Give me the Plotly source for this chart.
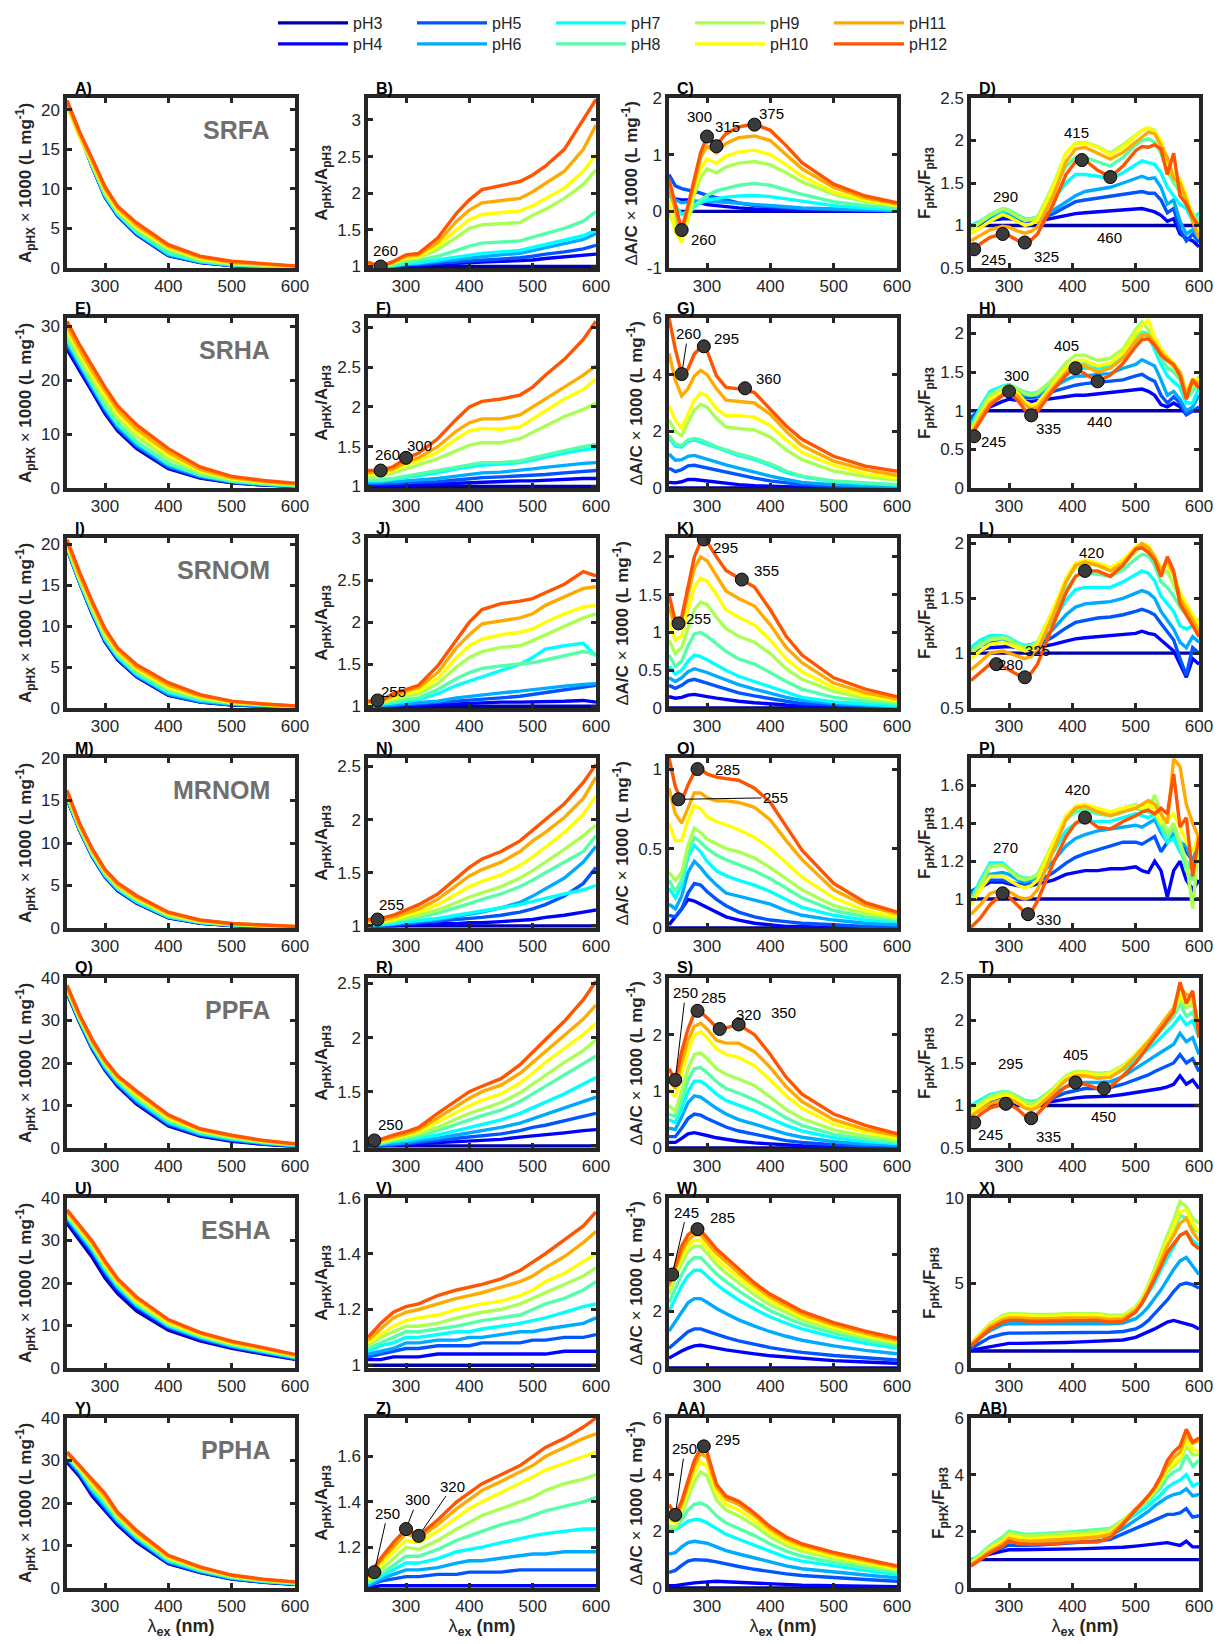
import plotly.graph_objects as go

FIG_W = 1220
FIG_H = 1644

PH_NAMES = ['pH3', 'pH4', 'pH5', 'pH6', 'pH7', 'pH8', 'pH9', 'pH10', 'pH11', 'pH12']
PH_COLORS = ['#0000AA', '#0000FF', '#0055FF', '#00AAFF', '#00FFFF',
             '#55FFAA', '#AAFF55', '#FFFF00', '#FFAA00', '#FF5500']

# wavelength grids (nm)
WL_ABS = [240, 260, 280, 300, 320, 350, 400, 450, 500, 550, 600]
WL_RATIO = [240, 260, 280, 300, 320, 350, 380, 400, 420, 450, 480, 500, 520, 550, 580, 600]
WL_DIFF = [240, 250, 260, 270, 280, 290, 300, 315, 330, 350, 375, 400, 425, 450, 500, 550, 600]
WL_FLUO = [240, 255, 270, 290, 300, 315, 325, 335, 345, 370, 390, 405, 420, 440, 460, 480,
           500, 510, 520, 530, 540, 550, 560, 570, 580, 590, 600]

# pH3 reference series (ratio to itself = 1, difference to itself = 0)
PH3_RATIO = [1, 1, 1, 1, 1, 1, 1, 1, 1, 1, 1, 1, 1, 1, 1, 1]
PH3_DIFF = [0, 0, 0, 0, 0, 0, 0, 0, 0, 0, 0, 0, 0, 0, 0, 0, 0]
PH3_FLUO = [1, 1, 1, 1, 1, 1, 1, 1, 1, 1, 1, 1, 1, 1, 1, 1, 1, 1, 1, 1, 1, 1, 1, 1, 1, 1, 1]

# ---------------- SRFA ----------------
SRFA_ABS = [
    [21.0, 16.8, 12.8, 9.0, 6.6, 4.2, 1.55, 0.70, 0.30, 0.15, 0.08],
    [21.0, 16.8, 12.8, 9.0, 6.6, 4.3, 1.6, 0.72, 0.32, 0.17, 0.09],
    [21.0, 16.8, 12.9, 9.1, 6.7, 4.3, 1.65, 0.75, 0.34, 0.19, 0.10],
    [21.0, 16.8, 12.9, 9.1, 6.7, 4.4, 1.7, 0.78, 0.36, 0.20, 0.11],
    [20.9, 16.8, 12.9, 9.2, 6.8, 4.5, 1.8, 0.82, 0.38, 0.22, 0.12],
    [20.8, 16.7, 13.0, 9.3, 6.9, 4.6, 2.0, 0.92, 0.43, 0.25, 0.14],
    [20.6, 16.6, 13.1, 9.6, 7.2, 5.0, 2.4, 1.10, 0.55, 0.32, 0.19],
    [20.6, 16.6, 13.2, 9.7, 7.3, 5.1, 2.6, 1.20, 0.60, 0.36, 0.21],
    [20.8, 16.9, 13.5, 10.0, 7.6, 5.4, 2.75, 1.35, 0.70, 0.45, 0.24],
    [21.2, 17.2, 13.8, 10.3, 7.8, 5.7, 2.95, 1.5, 0.85, 0.55, 0.27],
]
SRFA_RATIO = [
    PH3_RATIO,
    [1.01, 1.0, 1.0, 1.01, 1.02, 1.03, 1.04, 1.05, 1.06, 1.07, 1.08, 1.09, 1.11, 1.13, 1.15, 1.17],
    [1.02, 1.01, 1.01, 1.02, 1.03, 1.05, 1.07, 1.08, 1.09, 1.1, 1.12, 1.14, 1.17, 1.2, 1.24, 1.29],
    [1.0, 1.0, 1.01, 1.03, 1.04, 1.07, 1.1, 1.12, 1.14, 1.16, 1.18, 1.22, 1.26, 1.31, 1.37, 1.45],
    [1.0, 1.0, 1.01, 1.04, 1.05, 1.09, 1.13, 1.16, 1.18, 1.2, 1.22, 1.26, 1.3, 1.35, 1.42, 1.5],
    [1.0, 1.0, 1.02, 1.06, 1.08, 1.14, 1.22, 1.28, 1.32, 1.34, 1.35, 1.4, 1.45, 1.52, 1.62, 1.75],
    [1.0, 1.0, 1.04, 1.1, 1.12, 1.23, 1.4, 1.52, 1.57, 1.58, 1.6, 1.7, 1.78, 1.93, 2.12, 2.32],
    [1.01, 1.0, 1.05, 1.12, 1.14, 1.28, 1.5, 1.64, 1.71, 1.73, 1.76, 1.83, 1.93, 2.07, 2.3, 2.53],
    [1.04, 1.0, 1.06, 1.14, 1.16, 1.33, 1.62, 1.77, 1.87, 1.9, 1.93, 2.02, 2.13, 2.3, 2.6, 2.93],
    [1.06, 1.0, 1.07, 1.16, 1.18, 1.39, 1.73, 1.91, 2.05, 2.11, 2.16, 2.25, 2.37, 2.6, 3.0, 3.28],
]
SRFA_DIFF = [
    PH3_DIFF,
    [0.3, 0.22, 0.2, 0.2, 0.18, 0.15, 0.12, 0.1, 0.08, 0.06, 0.04, 0.03, 0.02, 0.02, 0.01, 0.01, 0.0],
    [0.65, 0.45, 0.4, 0.38, 0.35, 0.32, 0.28, 0.24, 0.2, 0.15, 0.1, 0.08, 0.06, 0.05, 0.03, 0.02, 0.01],
    [0.4, 0.2, 0.15, 0.17, 0.18, 0.18, 0.18, 0.17, 0.16, 0.14, 0.12, 0.1, 0.08, 0.06, 0.04, 0.02, 0.01],
    [0.3, 0.1, -0.05, 0.0, 0.08, 0.15, 0.2, 0.23, 0.25, 0.27, 0.28, 0.26, 0.22, 0.17, 0.1, 0.06, 0.03],
    [0.05, -0.2, -0.35, -0.1, 0.1, 0.2, 0.28, 0.36, 0.4, 0.46, 0.49, 0.46, 0.38, 0.3, 0.17, 0.1, 0.06],
    [0.0, -0.3, -0.5, -0.15, 0.3, 0.6, 0.75, 0.68, 0.78, 0.85, 0.88, 0.82, 0.68, 0.52, 0.3, 0.17, 0.1],
    [0.2, -0.35, -0.55, -0.1, 0.4, 0.75, 0.93, 0.85, 0.97, 1.05, 1.08, 1.0, 0.82, 0.62, 0.34, 0.2, 0.1],
    [0.5, 0.0, -0.4, 0.05, 0.5, 0.95, 1.15, 1.03, 1.2, 1.3, 1.33, 1.25, 1.0, 0.75, 0.42, 0.24, 0.13],
    [0.57, 0.1, -0.33, 0.1, 0.57, 1.04, 1.32, 1.17, 1.37, 1.49, 1.54, 1.43, 1.16, 0.86, 0.48, 0.27, 0.15],
]
SRFA_FLUO = [
    PH3_FLUO,
    [1.0, 1.03, 1.06, 1.08, 1.08, 1.06, 1.05, 1.05, 1.05, 1.09, 1.12, 1.14, 1.15, 1.16, 1.17, 1.18, 1.19, 1.2, 1.18, 1.16, 1.12, 1.05, 1.08, 0.9, 0.85, 0.82, 0.75],
    [1.0, 1.04, 1.08, 1.12, 1.11, 1.08, 1.06, 1.06, 1.07, 1.14, 1.22, 1.28, 1.3, 1.32, 1.35, 1.37, 1.38, 1.4, 1.38, 1.38, 1.3, 1.15, 1.2, 0.95, 0.82, 0.9, 0.8],
    [1.0, 1.05, 1.1, 1.14, 1.13, 1.09, 1.07, 1.07, 1.08, 1.18, 1.28, 1.35, 1.4, 1.42, 1.45, 1.5, 1.55, 1.58, 1.55, 1.56, 1.45, 1.25, 1.3, 1.05, 0.9, 0.95, 0.85],
    [1.0, 1.05, 1.12, 1.18, 1.16, 1.11, 1.08, 1.08, 1.1, 1.3, 1.5, 1.6, 1.6, 1.58, 1.55, 1.62, 1.72, 1.76, 1.74, 1.72, 1.62, 1.45, 1.35, 1.25, 1.2, 1.05, 1.15],
    [0.97, 1.05, 1.13, 1.2, 1.18, 1.12, 1.08, 1.08, 1.1, 1.4, 1.7, 1.8, 1.8, 1.75, 1.7, 1.8, 1.95, 2.0, 2.02, 1.98, 1.85, 1.65, 1.5, 1.4, 1.25, 1.15, 1.05],
    [0.95, 1.03, 1.12, 1.2, 1.17, 1.1, 1.06, 1.07, 1.1, 1.48, 1.85, 1.97, 1.98, 1.93, 1.85, 1.95, 2.07, 2.12, 2.15, 2.12, 1.95, 1.75, 1.55, 1.45, 1.3, 1.15, 1.0],
    [0.9, 0.97, 1.05, 1.13, 1.1, 1.04, 1.0, 1.02, 1.06, 1.45, 1.85, 1.96, 1.97, 1.92, 1.83, 1.92, 2.05, 2.12, 2.15, 2.1, 2.0, 1.75, 1.6, 1.55, 1.35, 1.1, 0.92],
    [0.82, 0.88, 0.95, 0.99, 0.98, 0.93, 0.91, 0.93, 0.98, 1.35, 1.75, 1.9, 1.92, 1.85, 1.78, 1.86, 1.98, 2.05, 2.1, 2.08, 1.95, 1.8, 1.55, 1.5, 1.3, 1.05, 0.85],
    [0.71, 0.79, 0.86, 0.9, 0.88, 0.82, 0.8, 0.83, 0.9, 1.25, 1.6, 1.75, 1.77, 1.65, 1.57, 1.7, 1.88, 1.93, 1.92, 1.95, 1.9, 1.6, 1.85, 1.35, 1.25, 1.1, 0.99],
]

# ---------------- SRHA ----------------
SRHA_ABS = [
    [25.7, 21.6, 17.8, 13.8, 10.6, 7.3, 3.6, 1.85, 0.95, 0.53, 0.29],
    [26.0, 21.8, 18.0, 14.0, 10.8, 7.5, 3.75, 1.95, 1.0, 0.57, 0.32],
    [26.5, 22.3, 18.4, 14.4, 11.1, 7.8, 3.95, 2.05, 1.08, 0.62, 0.35],
    [26.9, 22.7, 18.7, 14.7, 11.4, 8.0, 4.15, 2.2, 1.15, 0.67, 0.38],
    [27.4, 23.1, 19.1, 15.1, 11.8, 8.4, 4.45, 2.4, 1.28, 0.75, 0.43],
    [27.8, 23.4, 19.4, 15.3, 12.0, 8.6, 4.6, 2.45, 1.3, 0.78, 0.44],
    [28.6, 24.1, 20.1, 16.3, 12.9, 9.5, 5.4, 2.85, 1.55, 0.95, 0.6],
    [29.4, 24.9, 20.9, 17.2, 13.8, 10.3, 6.1, 3.2, 1.75, 1.1, 0.68],
    [30.0, 25.6, 21.6, 17.9, 14.4, 10.9, 6.6, 3.45, 1.9, 1.2, 0.73],
    [30.9, 26.5, 22.6, 18.7, 15.2, 11.7, 7.3, 3.9, 2.15, 1.38, 0.9],
]
SRHA_RATIO = [
    PH3_RATIO,
    [1.01, 1.01, 1.02, 1.02, 1.02, 1.03, 1.04, 1.05, 1.05, 1.06, 1.07, 1.07, 1.08, 1.09, 1.1, 1.1],
    [1.03, 1.03, 1.04, 1.05, 1.05, 1.06, 1.08, 1.1, 1.11, 1.12, 1.13, 1.14, 1.15, 1.17, 1.19, 1.2],
    [1.05, 1.05, 1.06, 1.07, 1.08, 1.1, 1.13, 1.15, 1.17, 1.18, 1.2, 1.22, 1.24, 1.27, 1.29, 1.3],
    [1.07, 1.07, 1.09, 1.11, 1.13, 1.17, 1.22, 1.25, 1.27, 1.28, 1.3, 1.33, 1.37, 1.42, 1.46, 1.48],
    [1.08, 1.08, 1.1, 1.13, 1.15, 1.2, 1.25, 1.28, 1.3, 1.3, 1.32, 1.36, 1.4, 1.45, 1.5, 1.53],
    [1.12, 1.13, 1.17, 1.22, 1.27, 1.35, 1.45, 1.52, 1.55, 1.55, 1.6, 1.68, 1.77, 1.88, 1.97, 2.05],
    [1.15, 1.15, 1.2, 1.27, 1.32, 1.43, 1.6, 1.7, 1.73, 1.72, 1.75, 1.85, 1.95, 2.1, 2.22, 2.35],
    [1.17, 1.18, 1.22, 1.3, 1.36, 1.5, 1.7, 1.8, 1.85, 1.85, 1.9, 2.0, 2.1, 2.25, 2.4, 2.52],
    [1.2, 1.2, 1.25, 1.35, 1.42, 1.6, 1.85, 2.0, 2.07, 2.1, 2.15, 2.25, 2.4, 2.6, 2.85, 3.08],
]
SRHA_DIFF = [
    PH3_DIFF,
    [0.2, 0.18, 0.22, 0.3, 0.3, 0.27, 0.24, 0.2, 0.16, 0.12, 0.08, 0.06, 0.04, 0.03, 0.02, 0.01, 0.01],
    [0.7, 0.58, 0.65, 0.78, 0.8, 0.75, 0.7, 0.65, 0.55, 0.45, 0.35, 0.25, 0.17, 0.12, 0.07, 0.05, 0.03],
    [1.2, 0.98, 1.0, 1.12, 1.15, 1.08, 1.0, 0.9, 0.82, 0.7, 0.55, 0.42, 0.3, 0.2, 0.12, 0.08, 0.05],
    [1.78, 1.48, 1.45, 1.65, 1.7, 1.62, 1.55, 1.4, 1.3, 1.15, 1.0, 0.8, 0.55, 0.4, 0.22, 0.15, 0.1],
    [1.85, 1.55, 1.5, 1.7, 1.75, 1.7, 1.6, 1.45, 1.35, 1.2, 1.05, 0.85, 0.6, 0.42, 0.25, 0.17, 0.12],
    [2.4, 2.0, 1.85, 2.3, 2.75, 2.95, 2.85, 2.45, 2.15, 2.1, 2.05, 1.8, 1.35, 1.0, 0.6, 0.4, 0.28],
    [2.9, 2.4, 2.1, 2.6, 3.1, 3.35, 3.25, 2.8, 2.55, 2.55, 2.5, 2.2, 1.7, 1.25, 0.8, 0.5, 0.35],
    [4.75, 3.8, 3.25, 3.5, 3.95, 4.15, 4.0, 3.5, 3.1, 3.05, 3.0, 2.6, 2.0, 1.5, 0.95, 0.65, 0.45],
    [6.0, 4.9, 4.02, 4.2, 4.73, 4.97, 4.85, 3.96, 3.55, 3.5, 3.37, 2.78, 2.19, 1.72, 1.12, 0.77, 0.59],
]
SRHA_FLUO = [
    PH3_FLUO,
    [0.9, 0.97, 1.05, 1.12, 1.15, 1.13, 1.12, 1.12, 1.13, 1.16, 1.19, 1.2, 1.2, 1.22, 1.24, 1.25, 1.28, 1.28, 1.25, 1.2, 1.08, 1.05, 1.1, 1.05, 0.95, 1.0, 1.0],
    [0.92, 1.0, 1.1, 1.2, 1.23, 1.2, 1.17, 1.17, 1.18, 1.25, 1.3, 1.33, 1.35, 1.37, 1.38, 1.4, 1.45, 1.47, 1.42, 1.38, 1.2, 1.1, 1.18, 1.1, 0.95, 1.0, 1.05],
    [0.85, 1.02, 1.18, 1.27, 1.3, 1.25, 1.2, 1.2, 1.2, 1.3, 1.4, 1.45, 1.45, 1.47, 1.48, 1.55, 1.6, 1.66, 1.62, 1.58, 1.4, 1.2, 1.25, 1.15, 1.0, 1.05, 1.2],
    [0.8, 1.05, 1.25, 1.32, 1.34, 1.28, 1.24, 1.22, 1.23, 1.35, 1.48, 1.55, 1.55, 1.55, 1.57, 1.68, 1.88, 1.97, 1.98, 1.8, 1.6, 1.45, 1.38, 1.3, 1.1, 1.1, 1.3],
    [0.75, 1.02, 1.22, 1.3, 1.33, 1.28, 1.24, 1.22, 1.24, 1.4, 1.55, 1.62, 1.62, 1.58, 1.6, 1.72, 1.95, 2.02, 2.0, 1.85, 1.68, 1.55, 1.5, 1.4, 1.15, 1.25, 1.4],
    [0.75, 1.0, 1.2, 1.3, 1.33, 1.28, 1.22, 1.2, 1.22, 1.42, 1.62, 1.72, 1.72, 1.65, 1.68, 1.8, 2.05, 2.15, 2.05, 1.9, 1.75, 1.65, 1.55, 1.45, 1.2, 1.3, 1.45],
    [0.72, 0.95, 1.15, 1.25, 1.3, 1.22, 1.12, 1.07, 1.1, 1.35, 1.55, 1.65, 1.65, 1.58, 1.62, 1.75, 2.0, 2.1, 2.17, 1.95, 1.8, 1.7, 1.62, 1.5, 1.25, 1.4, 1.4],
    [0.7, 0.92, 1.1, 1.22, 1.27, 1.18, 1.08, 1.02, 1.05, 1.3, 1.5, 1.6, 1.58, 1.5, 1.55, 1.68, 1.9, 1.98, 1.98, 1.88, 1.75, 1.68, 1.58, 1.5, 1.2, 1.4, 1.35],
    [0.67, 0.88, 1.07, 1.2, 1.25, 1.12, 1.01, 0.94, 0.99, 1.27, 1.46, 1.55, 1.48, 1.38, 1.46, 1.61, 1.83, 1.92, 1.93, 1.85, 1.72, 1.65, 1.6, 1.45, 1.15, 1.4, 1.29],
]

# ---------------- SRNOM ----------------
SRNOM_ABS = [
    [19.5, 15.3, 11.5, 8.1, 5.9, 3.8, 1.55, 0.72, 0.37, 0.2, 0.1],
    [19.5, 15.3, 11.5, 8.15, 5.95, 3.85, 1.6, 0.75, 0.39, 0.21, 0.105],
    [19.6, 15.4, 11.6, 8.25, 6.05, 3.95, 1.65, 0.78, 0.41, 0.24, 0.125],
    [19.6, 15.4, 11.7, 8.35, 6.15, 4.0, 1.72, 0.82, 0.44, 0.25, 0.127],
    [19.7, 15.5, 11.8, 8.5, 6.3, 4.15, 1.9, 0.97, 0.55, 0.34, 0.16],
    [19.8, 15.6, 11.9, 8.6, 6.4, 4.3, 2.05, 1.06, 0.56, 0.32, 0.162],
    [19.9, 15.8, 12.2, 8.9, 6.7, 4.6, 2.35, 1.24, 0.66, 0.39, 0.21],
    [20.0, 15.9, 12.4, 9.1, 6.9, 4.8, 2.55, 1.37, 0.71, 0.41, 0.22],
    [20.3, 16.2, 12.7, 9.4, 7.1, 5.0, 2.8, 1.5, 0.78, 0.46, 0.24],
    [20.6, 16.6, 13.0, 9.7, 7.35, 5.3, 3.1, 1.63, 0.84, 0.49, 0.255],
]
SRNOM_RATIO = [
    PH3_RATIO,
    [1.0, 1.0, 1.0, 1.01, 1.01, 1.02, 1.03, 1.03, 1.04, 1.05, 1.05, 1.05, 1.06, 1.06, 1.07, 1.05],
    [1.0, 1.0, 1.01, 1.02, 1.03, 1.04, 1.06, 1.07, 1.08, 1.1, 1.12, 1.14, 1.16, 1.2, 1.23, 1.25],
    [1.0, 1.01, 1.02, 1.03, 1.04, 1.06, 1.1, 1.12, 1.14, 1.16, 1.18, 1.2, 1.22, 1.24, 1.26, 1.27],
    [1.01, 1.02, 1.04, 1.06, 1.08, 1.15, 1.25, 1.3, 1.35, 1.42, 1.5, 1.58, 1.68, 1.72, 1.75, 1.6],
    [1.02, 1.03, 1.05, 1.08, 1.1, 1.2, 1.33, 1.4, 1.45, 1.48, 1.5, 1.52, 1.55, 1.6, 1.65, 1.62],
    [1.03, 1.04, 1.08, 1.12, 1.15, 1.27, 1.47, 1.58, 1.65, 1.7, 1.72, 1.78, 1.85, 1.95, 2.05, 2.1],
    [1.04, 1.05, 1.1, 1.15, 1.18, 1.33, 1.58, 1.72, 1.8, 1.85, 1.88, 1.92, 2.0, 2.1, 2.18, 2.2],
    [1.05, 1.06, 1.12, 1.18, 1.22, 1.4, 1.7, 1.85, 1.98, 2.02, 2.05, 2.1, 2.2, 2.3, 2.4, 2.42],
    [1.06, 1.07, 1.15, 1.2, 1.25, 1.48, 1.8, 2.0, 2.15, 2.22, 2.25, 2.28, 2.35, 2.45, 2.6, 2.55],
]
SRNOM_DIFF = [
    PH3_DIFF,
    [0.15, 0.13, 0.14, 0.17, 0.18, 0.17, 0.15, 0.13, 0.11, 0.09, 0.07, 0.05, 0.04, 0.03, 0.02, 0.01, 0.0],
    [0.3, 0.26, 0.3, 0.36, 0.38, 0.36, 0.33, 0.29, 0.25, 0.2, 0.16, 0.12, 0.09, 0.06, 0.04, 0.02, 0.01],
    [0.4, 0.35, 0.4, 0.48, 0.52, 0.5, 0.47, 0.42, 0.37, 0.31, 0.25, 0.19, 0.14, 0.1, 0.06, 0.04, 0.02],
    [0.55, 0.45, 0.5, 0.62, 0.7, 0.68, 0.64, 0.57, 0.5, 0.42, 0.35, 0.27, 0.2, 0.14, 0.08, 0.05, 0.03],
    [0.7, 0.55, 0.62, 0.82, 0.98, 1.0, 0.95, 0.85, 0.75, 0.65, 0.58, 0.47, 0.35, 0.25, 0.14, 0.09, 0.06],
    [0.9, 0.72, 0.8, 1.05, 1.3, 1.4, 1.37, 1.2, 1.05, 0.95, 0.87, 0.72, 0.52, 0.38, 0.22, 0.13, 0.08],
    [1.15, 0.9, 0.95, 1.3, 1.6, 1.72, 1.68, 1.5, 1.3, 1.2, 1.1, 0.9, 0.65, 0.48, 0.27, 0.16, 0.1],
    [1.35, 1.05, 1.15, 1.5, 1.85, 2.0, 1.95, 1.75, 1.55, 1.45, 1.35, 1.1, 0.8, 0.6, 0.33, 0.2, 0.12],
    [1.5, 1.15, 1.2, 1.6, 2.0, 2.2, 2.2, 2.0, 1.82, 1.72, 1.6, 1.3, 0.95, 0.7, 0.4, 0.25, 0.15],
]
SRNOM_FLUO = [
    PH3_FLUO,
    [1.0, 1.03, 1.05, 1.06, 1.06, 1.05, 1.04, 1.04, 1.05, 1.08, 1.11, 1.13, 1.14, 1.15, 1.16, 1.17, 1.18, 1.2, 1.18, 1.17, 1.12, 1.08, 1.02, 0.9, 0.78, 0.95, 0.9],
    [1.03, 1.07, 1.1, 1.1, 1.09, 1.06, 1.05, 1.06, 1.07, 1.15, 1.23, 1.28, 1.3, 1.32, 1.33, 1.35, 1.38, 1.4, 1.38, 1.35, 1.27, 1.2, 1.12, 0.95, 0.8, 1.05, 1.0],
    [1.05, 1.1, 1.13, 1.13, 1.11, 1.07, 1.06, 1.07, 1.08, 1.22, 1.35, 1.42, 1.45, 1.46, 1.47, 1.5, 1.55, 1.57, 1.55, 1.5, 1.38, 1.3, 1.22, 1.1, 1.05, 1.15, 1.1],
    [1.05, 1.12, 1.16, 1.16, 1.14, 1.09, 1.07, 1.08, 1.1, 1.3, 1.48, 1.58, 1.6, 1.6, 1.6, 1.65, 1.72, 1.75, 1.73, 1.66, 1.52, 1.45, 1.38, 1.25, 1.22, 1.25, 1.2],
    [1.02, 1.1, 1.14, 1.15, 1.13, 1.08, 1.06, 1.07, 1.1, 1.35, 1.58, 1.7, 1.73, 1.72, 1.7, 1.76, 1.86, 1.9, 1.89, 1.8, 1.65, 1.6, 1.52, 1.42, 1.35, 1.3, 1.28],
    [1.0, 1.07, 1.12, 1.14, 1.12, 1.07, 1.05, 1.06, 1.1, 1.4, 1.66, 1.78, 1.82, 1.8, 1.76, 1.82, 1.92, 1.98, 1.96, 1.88, 1.72, 1.75, 1.62, 1.5, 1.4, 1.32, 1.3],
    [0.95, 1.02, 1.08, 1.1, 1.08, 1.04, 1.02, 1.03, 1.08, 1.4, 1.68, 1.82, 1.85, 1.82, 1.78, 1.85, 1.97, 2.0, 1.98, 1.88, 1.78, 1.8, 1.72, 1.55, 1.45, 1.35, 1.25],
    [0.85, 0.92, 1.0, 1.02, 1.0, 0.97, 0.95, 0.97, 1.02, 1.35, 1.65, 1.8, 1.83, 1.8, 1.75, 1.82, 1.95, 2.0, 1.96, 1.88, 1.75, 1.85, 1.72, 1.5, 1.4, 1.3, 1.2],
    [0.75, 0.82, 0.9, 0.88, 0.85, 0.8, 0.78, 0.82, 0.9, 1.25, 1.55, 1.7, 1.75, 1.75, 1.7, 1.8, 1.95, 1.96, 1.92, 1.85, 1.7, 1.88, 1.75, 1.45, 1.35, 1.25, 1.15],
]

# ---------------- MRNOM ----------------
MRNOM_ABS = [
    [15.2, 11.5, 8.4, 6.0, 4.4, 2.9, 1.2, 0.55, 0.28, 0.15, 0.07],
    [15.2, 11.5, 8.4, 6.05, 4.45, 2.95, 1.22, 0.57, 0.3, 0.165, 0.08],
    [15.2, 11.5, 8.5, 6.1, 4.5, 3.0, 1.27, 0.6, 0.32, 0.19, 0.11],
    [15.3, 11.6, 8.5, 6.15, 4.55, 3.05, 1.3, 0.64, 0.36, 0.22, 0.12],
    [15.4, 11.7, 8.6, 6.25, 4.6, 3.1, 1.32, 0.64, 0.34, 0.2, 0.1],
    [15.5, 11.7, 8.7, 6.35, 4.75, 3.25, 1.44, 0.71, 0.4, 0.24, 0.13],
    [15.6, 11.8, 8.8, 6.5, 4.85, 3.35, 1.52, 0.75, 0.42, 0.26, 0.135],
    [15.7, 12.0, 8.9, 6.6, 5.0, 3.5, 1.64, 0.81, 0.46, 0.28, 0.155],
    [15.9, 12.1, 9.1, 6.7, 5.1, 3.6, 1.76, 0.88, 0.5, 0.3, 0.17],
    [16.2, 12.3, 9.3, 6.9, 5.3, 3.8, 1.86, 0.94, 0.53, 0.32, 0.18],
]
MRNOM_RATIO = [
    PH3_RATIO,
    [1.0, 1.0, 1.0, 1.01, 1.01, 1.02, 1.02, 1.03, 1.03, 1.04, 1.05, 1.06, 1.08, 1.1, 1.13, 1.15],
    [1.0, 1.0, 1.01, 1.02, 1.03, 1.04, 1.06, 1.07, 1.08, 1.1, 1.13, 1.16, 1.2, 1.28, 1.4, 1.55],
    [1.0, 1.01, 1.02, 1.03, 1.04, 1.06, 1.09, 1.11, 1.13, 1.17, 1.22, 1.28, 1.35, 1.45, 1.6, 1.75],
    [1.01, 1.01, 1.02, 1.04, 1.05, 1.07, 1.1, 1.12, 1.14, 1.17, 1.2, 1.23, 1.26, 1.3, 1.34, 1.38],
    [1.01, 1.02, 1.04, 1.06, 1.08, 1.12, 1.17, 1.21, 1.25, 1.3, 1.37, 1.43, 1.5, 1.6, 1.7, 1.85],
    [1.02, 1.03, 1.05, 1.08, 1.1, 1.15, 1.22, 1.27, 1.31, 1.37, 1.45, 1.52, 1.6, 1.72, 1.85, 1.95],
    [1.03, 1.04, 1.06, 1.1, 1.13, 1.2, 1.3, 1.37, 1.42, 1.48, 1.57, 1.65, 1.74, 1.88, 2.05, 2.22],
    [1.04, 1.05, 1.08, 1.12, 1.16, 1.25, 1.38, 1.47, 1.53, 1.6, 1.7, 1.8, 1.88, 2.02, 2.2, 2.4],
    [1.06, 1.07, 1.1, 1.15, 1.2, 1.3, 1.45, 1.55, 1.63, 1.7, 1.8, 1.9, 2.0, 2.15, 2.35, 2.52],
]
MRNOM_DIFF = [
    PH3_DIFF,
    [0.02, 0.07, 0.12, 0.18, 0.17, 0.15, 0.13, 0.1, 0.07, 0.05, 0.03, 0.02, 0.01, 0.01, 0.0, 0.0, 0.0],
    [0.08, 0.07, 0.12, 0.22, 0.28, 0.27, 0.23, 0.18, 0.14, 0.1, 0.07, 0.05, 0.04, 0.03, 0.02, 0.01, 0.01],
    [0.15, 0.12, 0.2, 0.35, 0.42, 0.38, 0.33, 0.27, 0.22, 0.2, 0.18, 0.15, 0.11, 0.08, 0.05, 0.03, 0.02],
    [0.25, 0.19, 0.27, 0.45, 0.52, 0.48, 0.42, 0.36, 0.33, 0.3, 0.27, 0.23, 0.18, 0.13, 0.08, 0.05, 0.04],
    [0.3, 0.23, 0.3, 0.48, 0.57, 0.54, 0.5, 0.46, 0.43, 0.4, 0.36, 0.31, 0.25, 0.19, 0.11, 0.07, 0.05],
    [0.35, 0.3, 0.35, 0.52, 0.63, 0.6, 0.56, 0.53, 0.5, 0.48, 0.44, 0.38, 0.31, 0.24, 0.14, 0.09, 0.06],
    [0.66, 0.55, 0.55, 0.68, 0.77, 0.75, 0.7, 0.67, 0.65, 0.62, 0.57, 0.5, 0.41, 0.32, 0.19, 0.11, 0.07],
    [0.88, 0.72, 0.66, 0.76, 0.85, 0.85, 0.82, 0.8, 0.8, 0.79, 0.76, 0.68, 0.55, 0.43, 0.24, 0.14, 0.09],
    [1.07, 0.89, 0.8, 0.9, 0.98, 1.0, 0.97, 0.95, 0.94, 0.93, 0.88, 0.79, 0.64, 0.49, 0.28, 0.16, 0.1],
]
MRNOM_FLUO = [
    PH3_FLUO,
    [1.04, 1.06, 1.09, 1.09, 1.08, 1.07, 1.07, 1.07, 1.08, 1.1, 1.13, 1.14, 1.15, 1.15, 1.16, 1.16, 1.17, 1.15, 1.14, 1.2, 1.15, 1.01, 1.15, 1.2, 1.1, 1.05, 1.1],
    [1.04, 1.07, 1.1, 1.1, 1.09, 1.08, 1.08, 1.08, 1.09, 1.14, 1.19, 1.22, 1.24, 1.26, 1.28, 1.3, 1.3, 1.29, 1.31, 1.33, 1.25, 1.3, 1.35, 1.3, 1.25, 1.2, 1.3],
    [1.02, 1.08, 1.13, 1.14, 1.13, 1.1, 1.09, 1.1, 1.11, 1.2, 1.28, 1.32, 1.34, 1.36, 1.37, 1.38, 1.39, 1.38, 1.4, 1.42, 1.35, 1.3, 1.35, 1.3, 1.28, 1.2, 1.3],
    [1.0, 1.1, 1.19, 1.19, 1.16, 1.12, 1.11, 1.11, 1.13, 1.25, 1.36, 1.4, 1.41, 1.41, 1.41, 1.43, 1.45, 1.44, 1.43, 1.45, 1.38, 1.3, 1.32, 1.25, 1.2, 1.15, 1.25],
    [0.99, 1.09, 1.18, 1.18, 1.16, 1.12, 1.11, 1.11, 1.13, 1.28, 1.42, 1.46, 1.47, 1.45, 1.44, 1.46, 1.48, 1.47, 1.46, 1.45, 1.4, 1.32, 1.38, 1.28, 1.15, 1.1, 1.25],
    [0.98, 1.08, 1.17, 1.18, 1.15, 1.11, 1.1, 1.11, 1.13, 1.3, 1.44, 1.48, 1.49, 1.47, 1.46, 1.48, 1.5, 1.48, 1.47, 1.55, 1.45, 1.35, 1.4, 1.3, 1.2, 0.95, 1.3],
    [0.97, 1.05, 1.12, 1.12, 1.1, 1.07, 1.06, 1.07, 1.1, 1.3, 1.44, 1.49, 1.5, 1.48, 1.46, 1.48, 1.49, 1.48, 1.5, 1.47, 1.4, 1.42, 1.45, 1.38, 1.3, 1.25, 1.35],
    [0.92, 0.97, 1.03, 1.05, 1.04, 1.01, 1.0, 1.01, 1.05, 1.25, 1.42, 1.48, 1.49, 1.46, 1.44, 1.46, 1.48, 1.5, 1.52, 1.5, 1.45, 1.4, 1.74, 1.7, 1.5, 1.4, 1.32],
    [0.85, 0.9, 0.97, 1.03, 1.01, 0.96, 0.93, 0.93, 0.99, 1.19, 1.33, 1.4, 1.43, 1.38, 1.37, 1.41, 1.44, 1.46, 1.47, 1.45, 1.48, 1.45, 1.66, 1.38, 1.43, 1.12, 1.33],
]

# ---------------- PPFA ----------------
PPFA_ABS = [
    [36.5, 29.5, 23.2, 18.3, 14.5, 10.3, 5.2, 2.8, 1.6, 0.85, 0.4],
    [36.5, 29.6, 23.4, 18.5, 14.8, 10.6, 5.45, 2.97, 1.74, 0.95, 0.46],
    [36.6, 29.7, 23.5, 18.6, 14.9, 10.8, 5.6, 3.1, 1.87, 1.03, 0.52],
    [36.8, 29.9, 23.7, 18.9, 15.2, 11.1, 5.85, 3.28, 2.0, 1.13, 0.58],
    [37.0, 30.1, 24.0, 19.2, 15.5, 11.4, 6.1, 3.45, 2.16, 1.23, 0.65],
    [37.2, 30.3, 24.3, 19.5, 15.8, 11.8, 6.45, 3.72, 2.37, 1.38, 0.73],
    [37.3, 30.4, 24.5, 19.7, 16.1, 12.1, 6.75, 3.9, 2.5, 1.47, 0.79],
    [37.6, 30.7, 24.8, 20.1, 16.4, 12.6, 7.1, 4.14, 2.67, 1.6, 0.85],
    [37.8, 31.0, 25.0, 20.3, 16.7, 13.0, 7.5, 4.37, 2.83, 1.7, 0.92],
    [38.3, 31.3, 25.5, 20.7, 17.0, 13.4, 7.8, 4.53, 3.0, 1.8, 1.0],
]
PPFA_RATIO = [
    PH3_RATIO,
    [1.0, 1.0, 1.01, 1.01, 1.02, 1.03, 1.04, 1.05, 1.05, 1.06, 1.08, 1.09, 1.1, 1.12, 1.14, 1.15],
    [1.0, 1.01, 1.01, 1.02, 1.03, 1.05, 1.07, 1.08, 1.09, 1.11, 1.14, 1.17, 1.19, 1.23, 1.27, 1.3],
    [1.01, 1.01, 1.02, 1.03, 1.05, 1.07, 1.1, 1.12, 1.14, 1.17, 1.21, 1.25, 1.29, 1.35, 1.41, 1.45],
    [1.01, 1.02, 1.04, 1.05, 1.07, 1.1, 1.14, 1.17, 1.2, 1.24, 1.3, 1.35, 1.4, 1.48, 1.57, 1.63],
    [1.02, 1.02, 1.05, 1.07, 1.09, 1.14, 1.2, 1.24, 1.28, 1.33, 1.41, 1.48, 1.55, 1.65, 1.76, 1.83],
    [1.02, 1.03, 1.06, 1.08, 1.11, 1.17, 1.25, 1.3, 1.34, 1.4, 1.49, 1.57, 1.65, 1.77, 1.88, 1.98],
    [1.03, 1.04, 1.07, 1.1, 1.13, 1.22, 1.31, 1.37, 1.42, 1.48, 1.58, 1.67, 1.77, 1.9, 2.03, 2.13],
    [1.04, 1.05, 1.08, 1.11, 1.15, 1.26, 1.37, 1.44, 1.5, 1.56, 1.67, 1.77, 1.87, 2.02, 2.17, 2.3],
    [1.05, 1.06, 1.1, 1.13, 1.17, 1.3, 1.42, 1.5, 1.55, 1.62, 1.75, 1.87, 1.98, 2.15, 2.35, 2.52],
]
PPFA_DIFF = [
    PH3_DIFF,
    [0.1, 0.1, 0.17, 0.25, 0.27, 0.25, 0.22, 0.18, 0.15, 0.12, 0.09, 0.07, 0.05, 0.04, 0.02, 0.01, 0.01],
    [0.2, 0.2, 0.35, 0.52, 0.6, 0.58, 0.52, 0.44, 0.37, 0.3, 0.24, 0.18, 0.13, 0.1, 0.06, 0.04, 0.03],
    [0.35, 0.33, 0.55, 0.8, 0.92, 0.9, 0.82, 0.7, 0.6, 0.5, 0.42, 0.33, 0.25, 0.19, 0.11, 0.07, 0.05],
    [0.5, 0.45, 0.7, 1.0, 1.18, 1.18, 1.1, 0.95, 0.84, 0.75, 0.65, 0.52, 0.4, 0.3, 0.18, 0.12, 0.08],
    [0.6, 0.55, 0.85, 1.2, 1.4, 1.42, 1.33, 1.17, 1.05, 0.97, 0.85, 0.7, 0.53, 0.4, 0.24, 0.16, 0.1],
    [0.75, 0.65, 1.0, 1.4, 1.65, 1.68, 1.58, 1.4, 1.3, 1.22, 1.1, 0.9, 0.68, 0.52, 0.32, 0.21, 0.14],
    [1.05, 0.9, 1.3, 1.7, 2.0, 2.05, 1.95, 1.75, 1.65, 1.6, 1.45, 1.2, 0.92, 0.7, 0.42, 0.28, 0.18],
    [1.2, 1.05, 1.5, 1.9, 2.15, 2.2, 2.1, 1.9, 1.85, 1.85, 1.7, 1.42, 1.08, 0.82, 0.5, 0.33, 0.22],
    [1.4, 1.2, 1.7, 2.1, 2.38, 2.4, 2.3, 2.13, 2.12, 2.18, 2.0, 1.65, 1.25, 0.95, 0.6, 0.4, 0.25],
]
PPFA_FLUO = [
    PH3_FLUO,
    [1.0, 1.02, 1.04, 1.05, 1.05, 1.03, 1.02, 1.02, 1.02, 1.05, 1.08, 1.09, 1.1, 1.1, 1.11, 1.13, 1.15, 1.16, 1.17, 1.19, 1.2, 1.22, 1.25, 1.35, 1.25, 1.3, 1.2],
    [1.0, 1.04, 1.07, 1.09, 1.08, 1.05, 1.03, 1.02, 1.03, 1.09, 1.15, 1.18, 1.2, 1.2, 1.21, 1.25, 1.3, 1.33, 1.36, 1.4, 1.43, 1.46, 1.5, 1.6, 1.5, 1.55, 1.4],
    [1.0, 1.05, 1.1, 1.12, 1.11, 1.07, 1.04, 1.03, 1.04, 1.13, 1.22, 1.26, 1.27, 1.27, 1.28, 1.34, 1.43, 1.48, 1.53, 1.58, 1.63, 1.68, 1.72, 1.85, 1.75, 1.8, 1.6],
    [1.0, 1.07, 1.13, 1.16, 1.15, 1.1, 1.06, 1.05, 1.06, 1.18, 1.3, 1.34, 1.35, 1.34, 1.35, 1.42, 1.53, 1.6, 1.66, 1.73, 1.8, 1.87, 1.95, 2.05, 1.95, 2.0, 1.8],
    [0.97, 1.05, 1.12, 1.16, 1.16, 1.1, 1.06, 1.04, 1.06, 1.2, 1.34, 1.38, 1.39, 1.37, 1.38, 1.45, 1.58, 1.65, 1.72, 1.8, 1.88, 1.97, 2.05, 2.2, 2.05, 2.1, 1.9],
    [0.95, 1.03, 1.1, 1.15, 1.15, 1.09, 1.04, 1.02, 1.04, 1.2, 1.35, 1.4, 1.4, 1.38, 1.39, 1.47, 1.6, 1.68, 1.75, 1.83, 1.92, 2.0, 2.1, 2.25, 2.15, 2.2, 1.95],
    [0.92, 1.0, 1.07, 1.12, 1.12, 1.06, 1.0, 0.98, 1.01, 1.18, 1.33, 1.38, 1.38, 1.36, 1.37, 1.45, 1.6, 1.68, 1.76, 1.85, 1.95, 2.05, 2.15, 2.3, 2.2, 2.25, 1.95],
    [0.88, 0.95, 1.02, 1.07, 1.08, 1.02, 0.97, 0.95, 0.98, 1.15, 1.3, 1.35, 1.35, 1.32, 1.33, 1.43, 1.58, 1.67, 1.75, 1.85, 1.95, 2.05, 2.15, 2.4, 2.3, 2.3, 1.85],
    [0.78, 0.9, 0.97, 1.02, 1.02, 0.95, 0.88, 0.85, 0.9, 1.1, 1.22, 1.27, 1.25, 1.2, 1.22, 1.35, 1.5, 1.6, 1.7, 1.8, 1.9, 2.0, 2.1, 2.45, 2.2, 2.35, 1.8],
]

# ---------------- ESHA ----------------
ESHA_ABS = [
    [34.0, 30.0, 26.0, 21.2, 17.5, 13.4, 8.9, 6.4, 4.6, 3.3, 2.07],
    [34.6, 30.6, 26.7, 21.8, 18.0, 13.9, 9.25, 6.65, 4.78, 3.45, 2.17],
    [35.0, 31.1, 27.2, 22.4, 18.5, 14.3, 9.55, 6.9, 5.0, 3.6, 2.3],
    [35.3, 31.5, 27.6, 22.8, 18.9, 14.6, 9.8, 7.1, 5.15, 3.75, 2.42],
    [35.6, 31.9, 28.0, 23.2, 19.2, 14.9, 10.0, 7.3, 5.35, 3.93, 2.53],
    [35.9, 32.2, 28.4, 23.6, 19.6, 15.2, 10.25, 7.5, 5.5, 4.1, 2.69],
    [36.2, 32.5, 28.7, 24.0, 19.9, 15.4, 10.5, 7.7, 5.7, 4.25, 2.79],
    [36.5, 32.8, 29.0, 24.3, 20.2, 15.8, 10.75, 7.9, 5.85, 4.4, 2.9],
    [36.8, 33.2, 29.4, 24.8, 20.6, 16.3, 11.1, 8.2, 6.07, 4.6, 3.06],
    [37.2, 33.5, 29.8, 25.2, 21.0, 16.7, 11.4, 8.4, 6.3, 4.8, 3.2],
]
ESHA_RATIO = [
    PH3_RATIO,
    [1.02, 1.02, 1.03, 1.03, 1.03, 1.04, 1.04, 1.04, 1.04, 1.04, 1.04, 1.04, 1.04, 1.05, 1.05, 1.05],
    [1.03, 1.04, 1.05, 1.06, 1.06, 1.07, 1.07, 1.07, 1.08, 1.08, 1.08, 1.09, 1.09, 1.1, 1.1, 1.11],
    [1.04, 1.05, 1.06, 1.08, 1.08, 1.09, 1.09, 1.1, 1.1, 1.11, 1.12, 1.12, 1.13, 1.14, 1.15, 1.17],
    [1.05, 1.07, 1.08, 1.1, 1.1, 1.11, 1.12, 1.12, 1.13, 1.14, 1.15, 1.16, 1.17, 1.19, 1.21, 1.22],
    [1.06, 1.08, 1.1, 1.12, 1.12, 1.13, 1.14, 1.15, 1.16, 1.17, 1.18, 1.2, 1.22, 1.24, 1.27, 1.3],
    [1.07, 1.1, 1.12, 1.14, 1.14, 1.15, 1.17, 1.18, 1.19, 1.2, 1.22, 1.24, 1.26, 1.29, 1.32, 1.35],
    [1.08, 1.11, 1.14, 1.16, 1.17, 1.18, 1.2, 1.21, 1.22, 1.23, 1.25, 1.27, 1.3, 1.33, 1.37, 1.4],
    [1.09, 1.13, 1.17, 1.19, 1.2, 1.22, 1.24, 1.25, 1.26, 1.28, 1.3, 1.32, 1.35, 1.39, 1.44, 1.48],
    [1.1, 1.15, 1.19, 1.21, 1.22, 1.25, 1.27, 1.28, 1.29, 1.31, 1.34, 1.37, 1.4, 1.45, 1.5, 1.55],
]
ESHA_DIFF = [
    PH3_DIFF,
    [0.35, 0.48, 0.6, 0.7, 0.78, 0.8, 0.77, 0.7, 0.64, 0.57, 0.5, 0.43, 0.38, 0.33, 0.26, 0.21, 0.17],
    [0.7, 0.9, 1.1, 1.28, 1.38, 1.38, 1.3, 1.18, 1.08, 0.96, 0.83, 0.72, 0.63, 0.55, 0.44, 0.35, 0.28],
    [1.3, 1.65, 2.0, 2.3, 2.45, 2.45, 2.32, 2.1, 1.92, 1.7, 1.48, 1.28, 1.12, 0.98, 0.78, 0.62, 0.5],
    [2.0, 2.45, 2.9, 3.25, 3.45, 3.45, 3.25, 2.95, 2.7, 2.4, 2.08, 1.8, 1.58, 1.38, 1.1, 0.87, 0.7],
    [2.3, 2.8, 3.3, 3.7, 3.9, 3.9, 3.68, 3.32, 3.05, 2.72, 2.35, 2.02, 1.78, 1.55, 1.23, 0.98, 0.78],
    [2.6, 3.2, 3.7, 4.1, 4.3, 4.3, 4.05, 3.65, 3.35, 3.0, 2.58, 2.22, 1.95, 1.7, 1.35, 1.08, 0.86],
    [2.8, 3.4, 3.9, 4.3, 4.5, 4.5, 4.25, 3.85, 3.55, 3.2, 2.75, 2.38, 2.08, 1.8, 1.43, 1.15, 0.92],
    [2.9, 3.5, 4.1, 4.5, 4.7, 4.7, 4.45, 4.05, 3.75, 3.35, 2.9, 2.5, 2.2, 1.9, 1.52, 1.22, 0.98],
    [3.0, 3.6, 4.3, 4.7, 4.88, 4.85, 4.6, 4.2, 3.9, 3.5, 3.0, 2.6, 2.3, 2.0, 1.6, 1.3, 1.05],
]
ESHA_FLUO = [
    PH3_FLUO,
    [1.05, 1.15, 1.25, 1.4, 1.45, 1.45, 1.45, 1.45, 1.45, 1.48, 1.5, 1.52, 1.55, 1.58, 1.6, 1.65, 1.8, 1.95, 2.1, 2.3, 2.5, 2.7, 2.8, 2.7, 2.6, 2.5, 2.3],
    [1.15, 1.5, 1.8, 2.0, 2.05, 2.05, 2.05, 2.05, 2.05, 2.07, 2.08, 2.08, 2.1, 2.1, 2.1, 2.15, 2.3, 2.5, 2.8, 3.2, 3.6, 4.0, 4.5, 4.9, 5.0, 4.9, 4.7],
    [1.3, 1.8, 2.2, 2.55, 2.6, 2.6, 2.58, 2.58, 2.58, 2.6, 2.62, 2.62, 2.63, 2.63, 2.6, 2.65, 2.9, 3.2, 3.6, 4.1, 4.6, 5.2, 5.8, 6.3, 6.5, 6.0, 5.5],
    [1.4, 1.95, 2.45, 2.9, 3.0, 3.0, 2.95, 2.95, 2.95, 2.95, 3.0, 3.0, 3.0, 3.0, 2.9, 2.95, 3.3, 3.8, 4.4, 5.0, 5.8, 6.5, 7.2, 7.8, 8.0, 7.5, 7.2],
    [1.45, 2.05, 2.6, 3.05, 3.15, 3.15, 3.1, 3.1, 3.1, 3.1, 3.15, 3.15, 3.15, 3.15, 3.05, 3.05, 3.5, 4.0, 4.7, 5.5, 6.4, 7.3, 8.0, 9.0, 8.8, 8.2, 8.0],
    [1.45, 2.05, 2.6, 3.1, 3.2, 3.2, 3.15, 3.15, 3.15, 3.15, 3.2, 3.2, 3.2, 3.2, 3.1, 3.1, 3.6, 4.1, 4.9, 5.8, 6.8, 7.8, 8.7, 9.8, 9.5, 8.8, 8.5],
    [1.4, 2.0, 2.55, 3.0, 3.1, 3.1, 3.05, 3.05, 3.05, 3.05, 3.1, 3.1, 3.1, 3.1, 3.0, 3.0, 3.5, 4.0, 4.8, 5.6, 6.6, 7.5, 8.3, 9.2, 9.3, 8.5, 8.0],
    [1.35, 1.9, 2.45, 2.85, 2.95, 2.95, 2.9, 2.9, 2.9, 2.9, 2.95, 2.95, 2.95, 2.95, 2.85, 2.9, 3.4, 3.9, 4.6, 5.4, 6.3, 7.2, 7.8, 8.5, 8.8, 8.0, 7.5],
    [1.3, 1.8, 2.3, 2.7, 2.8, 2.8, 2.75, 2.75, 2.75, 2.75, 2.8, 2.8, 2.8, 2.8, 2.7, 2.75, 3.3, 3.8, 4.5, 5.2, 6.0, 6.8, 7.3, 7.8, 8.0, 7.3, 7.0],
]

# ---------------- PPHA ----------------
PPHA_ABS = [
    [29.6, 26.2, 21.6, 18.1, 14.8, 10.8, 5.7, 3.6, 2.1, 1.35, 0.85],
    [30.0, 26.6, 22.0, 18.5, 15.1, 11.1, 5.85, 3.72, 2.17, 1.4, 0.88],
    [30.3, 26.9, 22.4, 18.9, 15.4, 11.3, 6.0, 3.82, 2.23, 1.45, 0.92],
    [30.6, 27.2, 22.8, 19.3, 15.7, 11.6, 6.2, 3.95, 2.32, 1.52, 0.98],
    [30.9, 27.5, 23.2, 19.8, 16.0, 11.9, 6.4, 4.1, 2.42, 1.6, 1.05],
    [31.1, 27.8, 23.6, 20.3, 16.4, 12.2, 6.7, 4.3, 2.55, 1.7, 1.13],
    [31.3, 28.0, 24.0, 20.7, 16.7, 12.4, 6.95, 4.45, 2.67, 1.8, 1.22],
    [31.6, 28.3, 24.5, 21.2, 17.1, 12.8, 7.25, 4.66, 2.8, 1.9, 1.3],
    [31.8, 28.6, 25.0, 21.6, 17.4, 13.1, 7.5, 4.8, 2.9, 1.98, 1.38],
    [32.0, 28.8, 25.6, 22.2, 17.8, 13.5, 7.7, 4.95, 3.05, 2.05, 1.45],
]
PPHA_RATIO = [
    PH3_RATIO,
    [1.02, 1.03, 1.03, 1.03, 1.03, 1.03, 1.03, 1.03, 1.03, 1.03, 1.03, 1.03, 1.03, 1.03, 1.03, 1.03],
    [1.03, 1.05, 1.06, 1.07, 1.07, 1.08, 1.08, 1.09, 1.09, 1.09, 1.1, 1.1, 1.1, 1.1, 1.1, 1.1],
    [1.03, 1.06, 1.08, 1.1, 1.1, 1.11, 1.13, 1.14, 1.14, 1.15, 1.16, 1.17, 1.17, 1.18, 1.18, 1.18],
    [1.04, 1.07, 1.1, 1.13, 1.13, 1.15, 1.18, 1.19, 1.2, 1.22, 1.24, 1.25, 1.26, 1.27, 1.28, 1.28],
    [1.04, 1.08, 1.12, 1.16, 1.16, 1.19, 1.23, 1.25, 1.27, 1.3, 1.32, 1.34, 1.36, 1.38, 1.4, 1.42],
    [1.05, 1.1, 1.15, 1.2, 1.19, 1.23, 1.28, 1.31, 1.34, 1.37, 1.4, 1.42, 1.45, 1.48, 1.5, 1.52],
    [1.06, 1.12, 1.18, 1.23, 1.22, 1.27, 1.33, 1.37, 1.4, 1.44, 1.48, 1.51, 1.54, 1.57, 1.6, 1.62],
    [1.07, 1.14, 1.2, 1.26, 1.24, 1.3, 1.37, 1.41, 1.45, 1.49, 1.53, 1.56, 1.6, 1.64, 1.68, 1.7],
    [1.07, 1.15, 1.22, 1.28, 1.25, 1.32, 1.4, 1.44, 1.48, 1.52, 1.56, 1.6, 1.64, 1.68, 1.73, 1.77],
]
PPHA_DIFF = [
    PH3_DIFF,
    [0.08, 0.08, 0.12, 0.16, 0.18, 0.2, 0.22, 0.24, 0.22, 0.2, 0.17, 0.14, 0.12, 0.1, 0.08, 0.06, 0.05],
    [0.55, 0.62, 0.8, 0.95, 1.0, 1.0, 0.98, 0.92, 0.84, 0.76, 0.66, 0.57, 0.5, 0.44, 0.36, 0.3, 0.24],
    [1.2, 1.25, 1.45, 1.6, 1.65, 1.63, 1.58, 1.45, 1.32, 1.2, 1.05, 0.9, 0.78, 0.68, 0.56, 0.46, 0.36],
    [2.05, 2.05, 2.2, 2.35, 2.42, 2.4, 2.3, 2.1, 1.9, 1.72, 1.5, 1.28, 1.08, 0.95, 0.77, 0.62, 0.47],
    [2.1, 2.1, 2.4, 2.75, 2.95, 3.0, 2.9, 2.55, 2.3, 2.1, 1.85, 1.55, 1.3, 1.12, 0.9, 0.72, 0.55],
    [2.2, 2.15, 2.6, 3.2, 3.75, 4.1, 3.95, 3.1, 2.75, 2.55, 2.2, 1.8, 1.5, 1.3, 1.03, 0.83, 0.62],
    [2.4, 2.3, 2.8, 3.4, 4.05, 4.45, 4.3, 3.35, 2.95, 2.75, 2.38, 1.95, 1.62, 1.4, 1.12, 0.9, 0.68],
    [2.7, 2.5, 2.95, 3.6, 4.3, 4.75, 4.6, 3.55, 3.15, 2.95, 2.55, 2.08, 1.72, 1.5, 1.2, 0.97, 0.74],
    [2.94, 2.58, 3.06, 3.78, 4.5, 4.92, 4.8, 3.66, 3.24, 3.06, 2.64, 2.16, 1.8, 1.56, 1.26, 1.02, 0.78],
]
PPHA_FLUO = [
    PH3_FLUO,
    [1.0, 1.1, 1.2, 1.3, 1.35, 1.35, 1.35, 1.35, 1.35, 1.36, 1.37, 1.38, 1.39, 1.4, 1.42, 1.44, 1.48, 1.5, 1.52, 1.55, 1.57, 1.6, 1.55, 1.5, 1.65, 1.45, 1.45],
    [0.95, 1.08, 1.25, 1.42, 1.52, 1.5, 1.5, 1.5, 1.52, 1.55, 1.58, 1.6, 1.62, 1.66, 1.72, 1.9, 2.1, 2.2, 2.3, 2.4, 2.5, 2.6, 2.6, 2.65, 2.8, 2.5, 2.55],
    [0.95, 1.12, 1.35, 1.55, 1.7, 1.67, 1.66, 1.67, 1.68, 1.7, 1.73, 1.76, 1.78, 1.8, 1.85, 2.1, 2.4, 2.55, 2.7, 2.9, 3.05, 3.2, 3.3, 3.35, 3.5, 3.25, 3.3],
    [0.95, 1.18, 1.45, 1.72, 1.9, 1.85, 1.83, 1.83, 1.84, 1.86, 1.9, 1.92, 1.94, 1.97, 2.02, 2.3, 2.6, 2.75, 2.9, 3.1, 3.3, 3.55, 3.7, 3.8, 4.0, 3.6, 3.7],
    [0.95, 1.2, 1.5, 1.8, 2.0, 1.93, 1.9, 1.9, 1.91, 1.93, 1.97, 2.0, 2.02, 2.05, 2.1, 2.4, 2.75, 2.9, 3.05, 3.3, 3.55, 3.9, 4.1, 4.2, 4.7, 4.3, 4.5],
    [0.9, 1.15, 1.45, 1.75, 1.95, 1.88, 1.85, 1.85, 1.86, 1.88, 1.92, 1.94, 1.96, 2.0, 2.05, 2.4, 2.8, 2.98, 3.15, 3.4, 3.7, 4.1, 4.3, 4.5, 5.0, 4.7, 4.7],
    [0.86, 1.1, 1.38, 1.65, 1.85, 1.78, 1.75, 1.75, 1.76, 1.78, 1.82, 1.84, 1.86, 1.9, 1.98, 2.35, 2.8, 3.0, 3.2, 3.45, 3.8, 4.2, 4.4, 4.6, 5.2, 4.9, 4.8],
    [0.82, 1.05, 1.3, 1.55, 1.75, 1.68, 1.65, 1.65, 1.66, 1.68, 1.72, 1.74, 1.76, 1.8, 1.9, 2.3, 2.8, 3.0, 3.25, 3.5, 3.9, 4.3, 4.6, 4.8, 5.4, 5.1, 5.2],
    [0.77, 1.0, 1.24, 1.48, 1.66, 1.56, 1.54, 1.54, 1.55, 1.56, 1.6, 1.62, 1.63, 1.62, 1.78, 2.25, 2.78, 3.0, 3.25, 3.55, 3.96, 4.5, 4.8, 5.0, 5.6, 5.15, 5.3],
]

# highlighted points on the pH12 curves (wavelength nm, value)
SRFA_RATIO_PTS_NM = [260];                SRFA_RATIO_PTS_V = [1.0]
SRFA_DIFF_PTS_NM = [260, 300, 315, 375];  SRFA_DIFF_PTS_V = [-0.33, 1.32, 1.15, 1.53]
SRFA_FLUO_PTS_NM = [245, 290, 325, 415, 460]; SRFA_FLUO_PTS_V = [0.72, 0.9, 0.8, 1.77, 1.57]
SRHA_RATIO_PTS_NM = [260, 300];           SRHA_RATIO_PTS_V = [1.2, 1.36]
SRHA_DIFF_PTS_NM = [260, 295, 360];       SRHA_DIFF_PTS_V = [4.02, 5.0, 3.52]
SRHA_FLUO_PTS_NM = [245, 300, 335, 405, 440]; SRHA_FLUO_PTS_V = [0.67, 1.25, 0.94, 1.55, 1.38]
SRNOM_RATIO_PTS_NM = [255];               SRNOM_RATIO_PTS_V = [1.07]
SRNOM_DIFF_PTS_NM = [255, 295, 355];      SRNOM_DIFF_PTS_V = [1.12, 2.23, 1.7]
SRNOM_FLUO_PTS_NM = [280, 325, 420];      SRNOM_FLUO_PTS_V = [0.9, 0.78, 1.75]
MRNOM_RATIO_PTS_NM = [255];               MRNOM_RATIO_PTS_V = [1.06]
MRNOM_DIFF_PTS_NM = [255, 285];           MRNOM_DIFF_PTS_V = [0.81, 1.0]
MRNOM_FLUO_PTS_NM = [290, 330, 420];      MRNOM_FLUO_PTS_V = [1.03, 0.92, 1.43]
PPFA_RATIO_PTS_NM = [250];                PPFA_RATIO_PTS_V = [1.05]
PPFA_DIFF_PTS_NM = [250, 285, 320, 350];  PPFA_DIFF_PTS_V = [1.2, 2.42, 2.1, 2.18]
PPFA_FLUO_PTS_NM = [245, 295, 335, 405, 450]; PPFA_FLUO_PTS_V = [0.8, 1.02, 0.85, 1.27, 1.2]
ESHA_DIFF_PTS_NM = [245, 285];            ESHA_DIFF_PTS_V = [3.3, 4.9]
PPHA_RATIO_PTS_NM = [250, 300, 320];      PPHA_RATIO_PTS_V = [1.09, 1.28, 1.25]
PPHA_DIFF_PTS_NM = [250, 295];            PPHA_DIFF_PTS_V = [2.58, 5.0]

# ---------------- layout description ----------------
COL_LEFT = [67, 368, 669, 971]
ROW_TOP = [98, 318, 538, 758, 978, 1198, 1418]
PANEL_W = 228
PANEL_H = 170

SAMPLES = ['SRFA', 'SRHA', 'SRNOM', 'MRNOM', 'PPFA', 'ESHA', 'PPHA']
GRIDS = [WL_ABS, WL_RATIO, WL_DIFF, WL_FLUO]
DATA = [
    [SRFA_ABS, SRFA_RATIO, SRFA_DIFF, SRFA_FLUO],
    [SRHA_ABS, SRHA_RATIO, SRHA_DIFF, SRHA_FLUO],
    [SRNOM_ABS, SRNOM_RATIO, SRNOM_DIFF, SRNOM_FLUO],
    [MRNOM_ABS, MRNOM_RATIO, MRNOM_DIFF, MRNOM_FLUO],
    [PPFA_ABS, PPFA_RATIO, PPFA_DIFF, PPFA_FLUO],
    [ESHA_ABS, ESHA_RATIO, ESHA_DIFF, ESHA_FLUO],
    [PPHA_ABS, PPHA_RATIO, PPHA_DIFF, PPHA_FLUO],
]
POINTS = {
    (0, 1): (SRFA_RATIO_PTS_NM, SRFA_RATIO_PTS_V), (0, 2): (SRFA_DIFF_PTS_NM, SRFA_DIFF_PTS_V),
    (0, 3): (SRFA_FLUO_PTS_NM, SRFA_FLUO_PTS_V),
    (1, 1): (SRHA_RATIO_PTS_NM, SRHA_RATIO_PTS_V), (1, 2): (SRHA_DIFF_PTS_NM, SRHA_DIFF_PTS_V),
    (1, 3): (SRHA_FLUO_PTS_NM, SRHA_FLUO_PTS_V),
    (2, 1): (SRNOM_RATIO_PTS_NM, SRNOM_RATIO_PTS_V), (2, 2): (SRNOM_DIFF_PTS_NM, SRNOM_DIFF_PTS_V),
    (2, 3): (SRNOM_FLUO_PTS_NM, SRNOM_FLUO_PTS_V),
    (3, 1): (MRNOM_RATIO_PTS_NM, MRNOM_RATIO_PTS_V), (3, 2): (MRNOM_DIFF_PTS_NM, MRNOM_DIFF_PTS_V),
    (3, 3): (MRNOM_FLUO_PTS_NM, MRNOM_FLUO_PTS_V),
    (4, 1): (PPFA_RATIO_PTS_NM, PPFA_RATIO_PTS_V), (4, 2): (PPFA_DIFF_PTS_NM, PPFA_DIFF_PTS_V),
    (4, 3): (PPFA_FLUO_PTS_NM, PPFA_FLUO_PTS_V),
    (5, 2): (ESHA_DIFF_PTS_NM, ESHA_DIFF_PTS_V),
    (6, 1): (PPHA_RATIO_PTS_NM, PPHA_RATIO_PTS_V), (6, 2): (PPHA_DIFF_PTS_NM, PPHA_DIFF_PTS_V),
}
# point labels: (text, label x, label y, index of point for a leader line or None)
LABELS = {
    (0, 1): [('260', 268, 1.22, None)],
    (0, 2): [('260', 294, -0.5, None), ('300', 288, 1.68, None), ('315', 332, 1.5, None), ('375', 402, 1.72, None)],
    (0, 3): [('245', 275, 0.6, None), ('290', 294, 1.34, None), ('325', 359, 0.64, None), ('415', 406, 2.09, None), ('460', 459, 0.86, None)],
    (1, 1): [('260', 271, 1.4, None), ('300', 322, 1.52, None)],
    (1, 2): [('260', 270, 5.45, 0), ('295', 331, 5.27, None), ('360', 397, 3.85, None)],
    (1, 3): [('245', 275, 0.6, None), ('300', 312, 1.46, None), ('335', 363, 0.77, None), ('405', 390, 1.84, None), ('440', 443, 0.86, None)],
    (2, 1): [('255', 280, 1.18, None)],
    (2, 2): [('255', 286, 1.18, None), ('295', 329, 2.12, None), ('355', 394, 1.82, None)],
    (2, 3): [('280', 303, 0.9, None), ('325', 345, 1.02, None), ('420', 430, 1.92, None)],
    (3, 1): [('255', 277, 1.2, None)],
    (3, 2): [('285', 332, 1.0, None), ('255', 408, 0.82, 0)],
    (3, 3): [('270', 294, 1.27, None), ('330', 363, 0.89, None), ('420', 408, 1.58, None)],
    (4, 1): [('250', 275, 1.2, None)],
    (4, 2): [('250', 266, 2.74, 0), ('285', 310, 2.65, None), ('320', 365, 2.36, None), ('350', 420, 2.4, None)],
    (4, 3): [('245', 271, 0.66, None), ('295', 303, 1.5, None), ('335', 363, 0.64, None), ('405', 405, 1.6, None), ('450', 449, 0.87, None)],
    (5, 2): [('245', 268, 5.5, 0), ('285', 324, 5.3, None)],
    (6, 1): [('250', 271, 1.35, 0), ('300', 318, 1.41, 1), ('320', 374, 1.47, 2)],
    (6, 2): [('250', 265, 4.92, 0), ('295', 333, 5.23, None)],
}
YRANGES = [
    [(0, 21.5), (0.98, 3.3), (-1, 2), (0.5, 2.5)],
    [(0, 31.5), (0.98, 3.12), (0, 6), (0, 2.2)],
    [(0, 20.8), (0.98, 3.0), (0, 2.25), (0.5, 2.05)],
    [(0, 20), (0.98, 2.58), (0, 1.07), (0.847, 1.745)],
    [(0, 40), (0.98, 2.55), (0, 3), (0.5, 2.5)],
    [(0, 40), (0.99, 1.6), (0, 6), (0, 10)],
    [(0, 40), (1.02, 1.77), (0, 6), (0, 6)],
]
YTICKS = [
    [[0, 5, 10, 15, 20], [1, 1.5, 2, 2.5, 3], [-1, 0, 1, 2], [0.5, 1, 1.5, 2, 2.5]],
    [[0, 10, 20, 30], [1, 1.5, 2, 2.5, 3], [0, 2, 4, 6], [0, 0.5, 1, 1.5, 2]],
    [[0, 5, 10, 15, 20], [1, 1.5, 2, 2.5, 3], [0, 0.5, 1, 1.5, 2], [0.5, 1, 1.5, 2]],
    [[0, 5, 10, 15, 20], [1, 1.5, 2, 2.5], [0, 0.5, 1], [1, 1.2, 1.4, 1.6]],
    [[0, 10, 20, 30, 40], [1, 1.5, 2, 2.5], [0, 1, 2, 3], [0.5, 1, 1.5, 2, 2.5]],
    [[0, 10, 20, 30, 40], [1, 1.2, 1.4, 1.6], [0, 2, 4, 6], [0, 5, 10]],
    [[0, 10, 20, 30, 40], [1.2, 1.4, 1.6], [0, 2, 4, 6], [0, 2, 4, 6]],
]
LETTERS = ['A', 'B', 'C', 'D', 'E', 'F', 'G', 'H', 'I', 'J', 'K', 'L', 'M', 'N',
           'O', 'P', 'Q', 'R', 'S', 'T', 'U', 'V', 'W', 'X', 'Y', 'Z', 'AA', 'AB']
YTITLES = [
    '<b>A<sub>pHX</sub></b> × <b>1000 (L mg<sup>-1</sup>)</b>',
    '<b>A<sub>pHX</sub>/A<sub>pH3</sub></b>',
    '∆<b>A/C</b> × <b>1000 (L mg<sup>-1</sup>)</b>',
    '<b>F<sub>pHX</sub>/F<sub>pH3</sub></b>',
]
XTITLE = 'λ<sub><b>ex</b></sub><b> (nm)</b>'

FONT = 'Liberation Sans, Arial, Helvetica, sans-serif'
AX_COLOR = '#262626'

fig = go.Figure()
layout = {}
annotations = []

for r in range(7):
    for c in range(4):
        k = r * 4 + c + 1
        xa = 'x' if k == 1 else f'x{k}'
        ya = 'y' if k == 1 else f'y{k}'
        xs = GRIDS[c]
        series = DATA[r][c]
        for j in range(10):
            fig.add_trace(go.Scatter(
                x=xs, y=series[j], mode='lines', name=PH_NAMES[j],
                line=dict(color=PH_COLORS[j], width=3.4),
                xaxis=xa, yaxis=ya, showlegend=(k == 1),
                legend='legend' if j % 2 == 0 else 'legend2',
                legendrank=j, hoverinfo='skip'))
        if (r, c) in POINTS:
            pnm, pv = POINTS[(r, c)]
            fig.add_trace(go.Scatter(
                x=pnm, y=pv, mode='markers', showlegend=False,
                marker=dict(size=13, color='#3a3a3a', line=dict(color='black', width=1)),
                xaxis=xa, yaxis=ya, hoverinfo='skip'))
            for (txt, lx, ly, lead) in LABELS.get((r, c), []):
                if lead is None:
                    annotations.append(dict(x=lx, y=ly, xref=xa, yref=ya, text=txt, showarrow=False,
                                            font=dict(family=FONT, size=15, color='black')))
                else:
                    annotations.append(dict(x=pnm[lead], y=pv[lead], xref=xa, yref=ya,
                                            ax=lx, ay=ly, axref=xa, ayref=ya, text=txt,
                                            showarrow=True, arrowhead=0, arrowwidth=1,
                                            arrowcolor='black', standoff=6, startstandoff=0,
                                            font=dict(family=FONT, size=15, color='black')))
        x0 = COL_LEFT[c] / FIG_W
        x1 = (COL_LEFT[c] + PANEL_W) / FIG_W
        y1 = 1 - ROW_TOP[r] / FIG_H
        y0 = 1 - (ROW_TOP[r] + PANEL_H) / FIG_H
        common = dict(showline=True, linewidth=3.5, linecolor=AX_COLOR, mirror='allticks',
                      ticks='inside', ticklen=5, tickwidth=2.5, tickcolor=AX_COLOR,
                      showgrid=False, zeroline=False,
                      tickfont=dict(family=FONT, size=17, color=AX_COLOR))
        xdict = dict(domain=[x0, x1], anchor=ya, range=[240, 600],
                     tickmode='array', tickvals=[300, 400, 500, 600],
                     ticktext=['300', '400', '500', '600'], **common)
        if r == 6:
            xdict['title'] = dict(text=XTITLE, font=dict(family=FONT, size=18, color=AX_COLOR), standoff=4)
        yt = YTICKS[r][c]
        ydict = dict(domain=[y0, y1], anchor=xa, range=list(YRANGES[r][c]),
                     tickmode='array', tickvals=yt, ticktext=[f'{v:g}' for v in yt],
                     title=dict(text=YTITLES[c], font=dict(family=FONT, size=17, color=AX_COLOR), standoff=6),
                     **common)
        layout['xaxis' if k == 1 else f'xaxis{k}'] = xdict
        layout['yaxis' if k == 1 else f'yaxis{k}'] = ydict
        # panel letter
        annotations.append(dict(x=(COL_LEFT[c] + 6) / FIG_W, y=1 - (ROW_TOP[r] - 10) / FIG_H,
                                xref='paper', yref='paper', xanchor='left', yanchor='middle',
                                text=f'<b>{LETTERS[k - 1]})</b>', showarrow=False,
                                font=dict(family=FONT, size=16, color='black')))
    # sample name
    annotations.append(dict(x=272 / FIG_W, y=1 - (ROW_TOP[r] + 32) / FIG_H, xref='paper', yref='paper',
                            xanchor='right', yanchor='middle', text=f'<b>{SAMPLES[r]}</b>',
                            showarrow=False, font=dict(family=FONT, size=25, color='#6f6f6f')))

legend_common = dict(orientation='h', xanchor='left', yanchor='top', bgcolor='rgba(0,0,0,0)',
                     borderwidth=0, entrywidth=54, entrywidthmode='pixels', itemwidth=70,
                     font=dict(family=FONT, size=16, color=AX_COLOR), traceorder='normal')

fig.update_layout(
    width=FIG_W, height=FIG_H,
    margin=dict(l=0, r=0, t=0, b=0, pad=0, autoexpand=False),
    paper_bgcolor='white', plot_bgcolor='white',
    font=dict(family=FONT, size=15, color=AX_COLOR),
    legend=dict(x=273 / FIG_W, y=1 - 6 / FIG_H, **legend_common),
    legend2=dict(x=273 / FIG_W, y=1 - 27 / FIG_H, **legend_common),
    annotations=annotations,
    **layout,
)

fig.write_html('out.html', config={'displayModeBar': False},
               post_script="document.body.style.margin='0px';")
